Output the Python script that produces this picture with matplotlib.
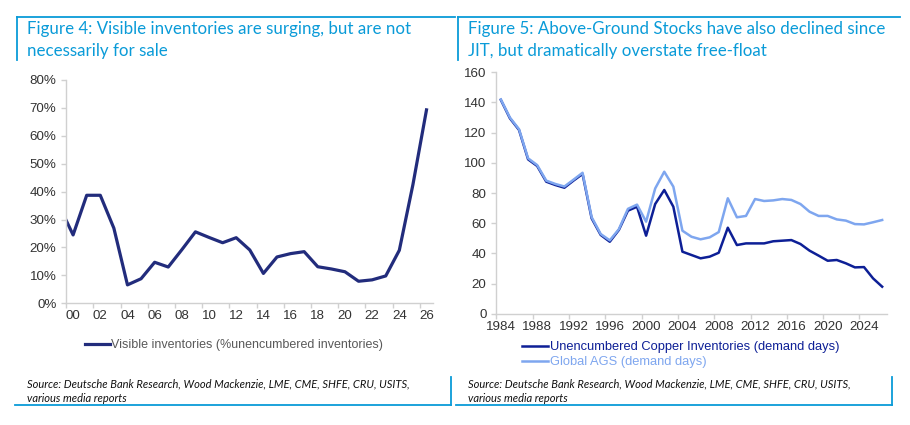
import matplotlib
matplotlib.use("Agg")
import matplotlib.pyplot as plt
from matplotlib.lines import Line2D
import numpy as np

# Figure 4 data (visible inventories, % of unencumbered inventories)
vis_years = [1999.5, 2000, 2001, 2002, 2003, 2004, 2005, 2006, 2007, 2008,
             2009, 2010, 2011, 2012, 2013, 2014, 2015, 2016, 2017, 2018,
             2019, 2020, 2021, 2022, 2023, 2024, 2025, 2026]
vis_share = [29.6, 24.5, 38.7, 38.7, 26.9, 6.6, 8.8, 14.7, 13.0, 19.2,
             25.6, 23.6, 21.7, 23.5, 19.1, 10.7, 16.6, 17.8, 18.5, 13.1,
             12.3, 11.3, 7.9, 8.4, 9.8, 19.0, 42.5, 69.3]
vis_labels = ["00", "02", "04", "06", "08", "10", "12", "14", "16", "18",
              "20", "22", "24", "26"]

# Figure 5 data (demand days)
ags_years = list(range(1984, 2027))
unencumbered = [141.7, 129.5, 121.8, 102.3, 97.9, 87.5, 85.3, 83.5, 88.2, 92.6,
                63.2, 52.2, 47.7, 55.5, 68.3, 70.9, 51.7, 72.7, 82.0, 70.9,
                41.1, 38.9, 36.7, 37.8, 40.4, 57.0, 45.5, 46.6, 46.6, 46.6,
                48.0, 48.4, 48.8, 46.2, 41.8, 38.5, 35.1, 35.6, 33.4, 30.7,
                30.9, 23.4, 17.9]
global_ags = [142.0, 130.0, 122.3, 103.0, 98.5, 88.2, 86.0, 84.3, 88.8, 93.4,
              64.0, 52.8, 48.6, 56.0, 69.5, 72.3, 61.0, 83.0, 94.1, 84.2,
              55.0, 51.0, 49.3, 50.6, 54.1, 76.5, 63.9, 64.8, 76.0, 74.7,
              75.1, 76.0, 75.4, 72.7, 67.6, 64.8, 64.8, 62.5, 61.7, 59.4,
              59.2, 60.6, 62.1]
ags_labels = [str(y) for y in range(1984, 2025, 4)]

TITLE_BLUE = "#0a9bd8"
AXIS_GREY = "#d0d0d0"
TICK_TEXT = "#333333"
TICK_SIZE = 9.6

W, H = 910, 425


def fx(px):
    return px / W


def fy(py):
    return 1 - py / H


fig = plt.figure(figsize=(9.1, 4.25), dpi=100)
fig.patch.set_facecolor("white")

# frame decorations (top rule + short left rule, bottom rule + short right rule)
for x0, x1, xl, xr in [(17, 455, 17, 451), (458, 900, 458, 892)]:
    fig.add_artist(Line2D([fx(x0), fx(x1)], [fy(16.5), fy(16.5)], color=TITLE_BLUE, lw=1.3))
    fig.add_artist(Line2D([fx(xl), fx(xl)], [fy(16.5), fy(60)], color=TITLE_BLUE, lw=1.3))
    fig.add_artist(Line2D([fx(x0 - 2), fx(xr)], [fy(405), fy(405)], color=TITLE_BLUE, lw=1.3))
    fig.add_artist(Line2D([fx(xr), fx(xr)], [fy(377), fy(405)], color=TITLE_BLUE, lw=1.3))

title_kw = dict(color=TITLE_BLUE, fontsize=12.2, family="Lato", va="center", ha="left")
fig.text(fx(27), fy(29), "Figure 4: Visible inventories are surging, but are not", **title_kw)
fig.text(fx(27), fy(51), "necessarily for sale", **title_kw)
fig.text(fx(468), fy(29), "Figure 5: Above-Ground Stocks have also declined since", **title_kw)
fig.text(fx(468), fy(51), "JIT, but dramatically overstate free-float", **title_kw)

src_kw = dict(color="#111111", fontsize=8.0, family="Lato", style="italic", va="center", ha="left")
for x0 in (27, 468):
    fig.text(fx(x0), fy(384), "Source: Deutsche Bank Research, Wood Mackenzie, LME, CME, SHFE, CRU, USITS,", **src_kw)
    fig.text(fx(x0), fy(398), "various media reports", **src_kw)


def style_axes(ax):
    for side in ("top", "right"):
        ax.spines[side].set_visible(False)
    for side in ("left", "bottom"):
        ax.spines[side].set_color(AXIS_GREY)
        ax.spines[side].set_linewidth(1.0)
    ax.tick_params(which="major", length=3.5, color=AXIS_GREY, width=1.0,
                   labelsize=TICK_SIZE, labelcolor=TICK_TEXT)
    ax.tick_params(axis="x", which="major", labelbottom=False)
    ax.tick_params(axis="x", which="minor", length=0, labelsize=TICK_SIZE,
                   labelcolor=TICK_TEXT, pad=5)
    for lab in ax.get_yticklabels():
        lab.set_family("Liberation Sans")


# ---- Figure 4 ----
ax1 = fig.add_axes([fx(66.3), fy(303.3), fx(433.3 - 66.3), (303.3 - 80) / H])
ax1.plot(vis_years, vis_share, color="#222c7c", lw=2.3, solid_joinstyle="round")
ax1.set_xlim(1999.5, 2026.5)
ax1.set_ylim(0, 80)
ax1.set_yticks(np.arange(0, 81, 10))
ax1.set_yticklabels([f"{v}%" for v in range(0, 81, 10)])
ax1.set_xticks(np.arange(1999.5, 2026.6, 2))
ax1.set_xticks(np.arange(2000, 2027, 2), minor=True)
ax1.set_xticklabels(vis_labels, minor=True, family="Liberation Sans")
style_axes(ax1)
leg1 = ax1.legend(["Visible inventories (%unencumbered inventories)"], loc="center left",
                  bbox_to_anchor=(fx(80), fy(345)), bbox_transform=fig.transFigure,
                  frameon=False, handlelength=2.0, handletextpad=0.1, borderaxespad=0,
                  prop={"family": "Liberation Sans", "size": 9.0})
for t in leg1.get_texts():
    t.set_color("#595959")

# ---- Figure 5 ----
ax2 = fig.add_axes([fx(496.3), fy(313.7), fx(886.7 - 496.3), (313.7 - 72.3) / H])
l_unenc, = ax2.plot(ags_years, unencumbered, color="#0d1f96", lw=1.8)
l_ags, = ax2.plot(ags_years, global_ags, color="#7ea6ef", lw=1.8)
ax2.set_xlim(1983.5, 2026.5)
ax2.set_ylim(0, 160)
ax2.set_yticks(np.arange(0, 161, 20))
ax2.set_xticks(np.arange(1983.5, 2026.6, 4))
ax2.set_xticks(np.arange(1984, 2025, 4), minor=True)
ax2.set_xticklabels(ags_labels, minor=True, family="Liberation Sans")
style_axes(ax2)
leg2 = ax2.legend([l_unenc, l_ags],
                  ["Unencumbered Copper Inventories (demand days)", "Global AGS (demand days)"],
                  loc="upper left", bbox_to_anchor=(fx(517), fy(336)),
                  bbox_transform=fig.transFigure, frameon=False, handlelength=2.0,
                  handletextpad=0.15, labelspacing=0.25, borderaxespad=0,
                  prop={"family": "Liberation Sans", "size": 9.3})
for t, c in zip(leg2.get_texts(), ["#0d1f96", "#7ea6ef"]):
    t.set_color(c)

fig.savefig("out.png", dpi=100)
